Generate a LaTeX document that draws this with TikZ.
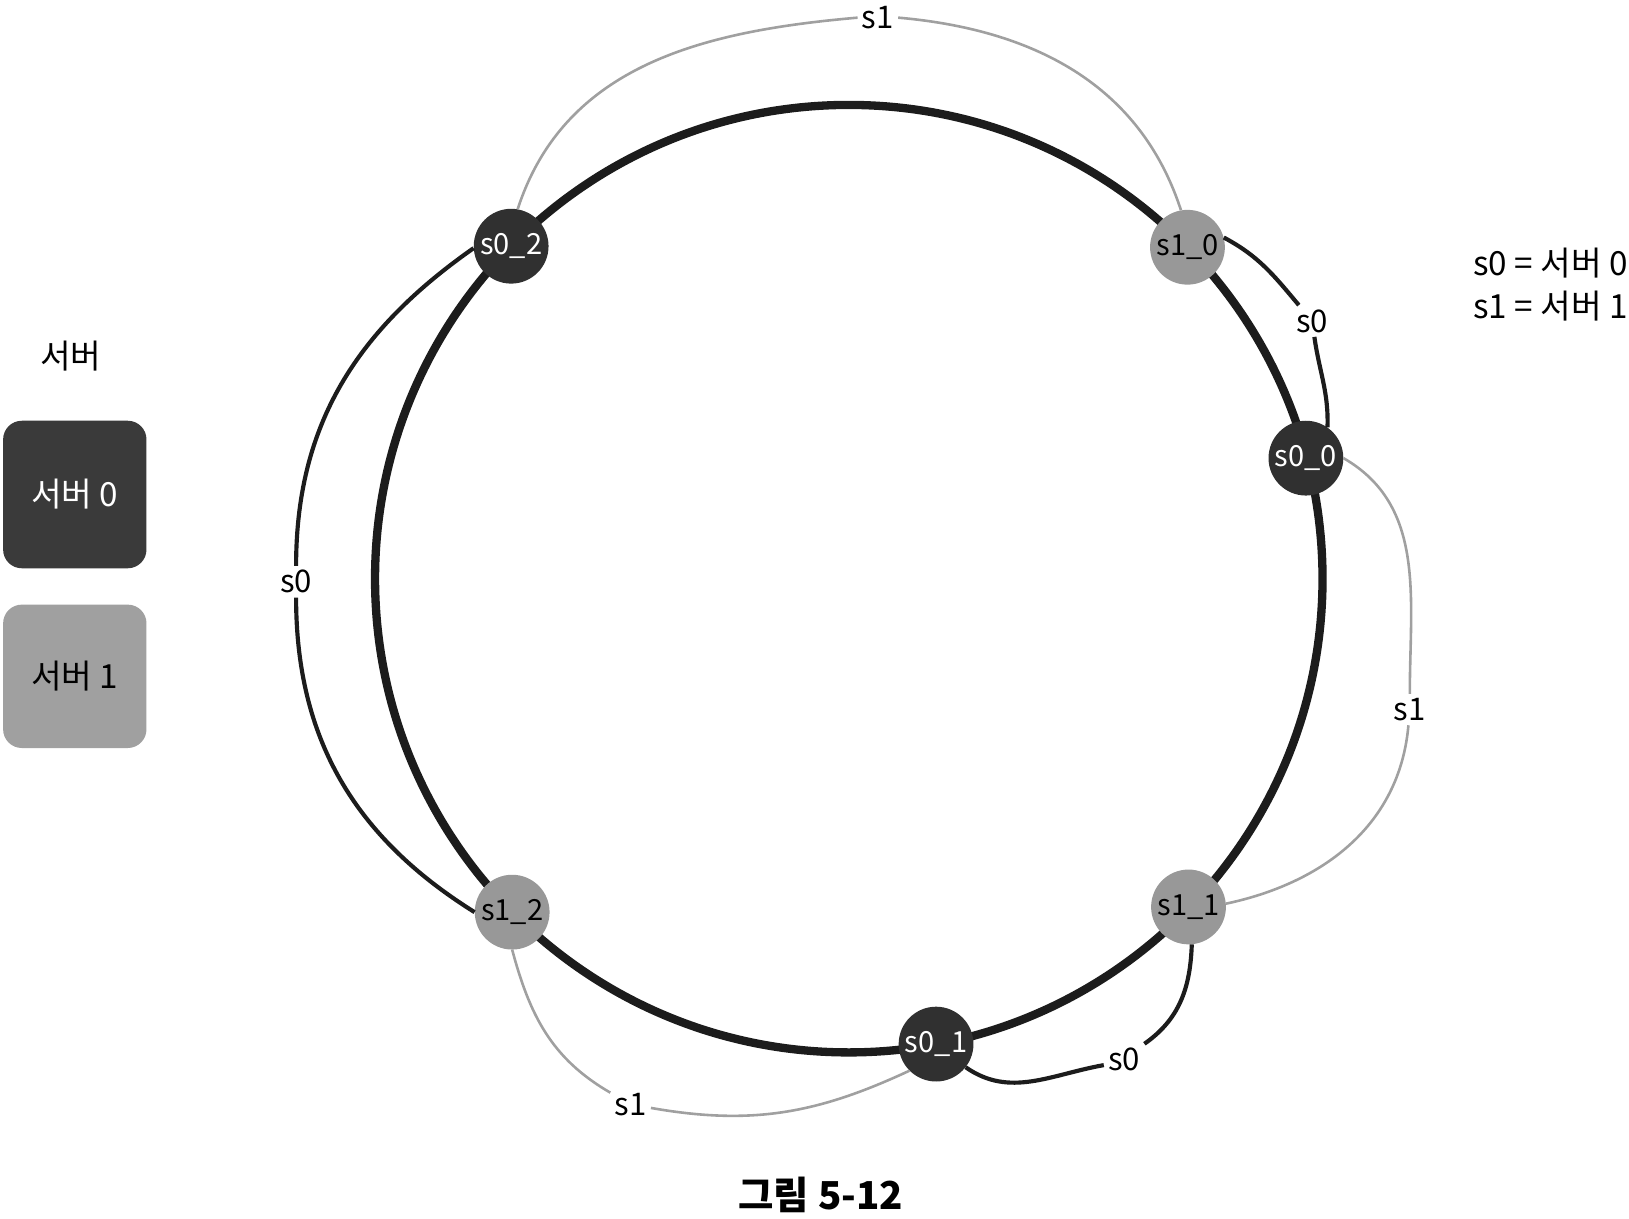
\documentclass[tikz,border=0pt]{standalone}
\usepackage{fontspec}
\setmainfont{Noto Sans CJK KR}
\definecolor{darkfill}{RGB}{48,48,48}
\definecolor{grayfill}{RGB}{152,152,152}
\definecolor{ringc}{RGB}{28,28,28}
\definecolor{arcgray}{RGB}{160,160,160}
\definecolor{boxdark}{RGB}{58,58,58}
\definecolor{boxgray}{RGB}{160,160,160}
\begin{document}
\begin{tikzpicture}[x=1pt,y=1pt,
  every node/.style={font=\fontsize{30}{36}\selectfont},
  legfont/.style={font=\fontsize{32}{38}\selectfont},
  srvzero/.style={circle, fill=darkfill, minimum size=72pt, inner sep=0pt, text=white, font=\fontsize{28}{34}\selectfont},
  srvone/.style={circle, fill=grayfill, minimum size=72pt, inner sep=0pt, text=black, font=\fontsize{28}{34}\selectfont},
  lbl/.style={inner sep=4pt},
  ringline/.style={line width=8pt, draw=ringc},
  blackarc/.style={line width=4pt, draw=ringc},
  grayarc/.style={line width=2.5pt, draw=arcgray},
  legbox/.style={rounded corners=18pt, minimum width=138pt, minimum height=142pt, inner sep=0pt},
]
\useasboundingbox (0,0) rectangle (1568,1173);
% ring
\coordinate (c) at (817,616);
\draw[ringline] (c) circle[radius=456pt];
% server nodes
\node[srvzero] (s02) at (492,936) {s0\_2};
\node[srvone]  (s10) at (1143,935) {s1\_0};
\node[srvzero] (s00) at (1257,732) {s0\_0};
\node[srvone]  (s11) at (1144,300) {s1\_1};
\node[srvzero] (s01) at (901,168) {s0\_1};
\node[srvone]  (s12) at (493,295) {s1\_2};
% arc labels
\node[lbl] (Ltop) at (845,1156) {s1};
\node[lbl] (Lr1) at (1263,864) {s0};
\node[lbl] (Lr2) at (1357,490) {s1};
\node[lbl] (Lb1) at (1082,153) {s0};
\node[lbl] (Lb2) at (607,110) {s1};
\node[lbl] (Ll) at (285,613) {s0};
% outer arcs
\draw[grayarc] (s02.80) to[out=72, in=185] (Ltop.west) (Ltop.east) to[out=-5, in=108] (s10.100);
\draw[blackarc] (s10.15) to[out=-28, in=130] (Lr1) to[out=-82, in=88] (s00.55);
\draw[grayarc] (s00.0) to[out=-30, in=90] (Lr2) to[out=-95, in=12] (s11.5);
\draw[blackarc] (s11.-85) to[out=-92, in=35] (Lb1.north east) (Lb1.195) to[out=190, in=-35] (s01.-38);
\draw[grayarc] (s01.-135) to[out=-155, in=-10] (Lb2) to[out=150, in=-75] (s12.-90);
\draw[blackarc] (s02.183) to[out=215, in=90] (Ll) to[out=-90, in=148] (s12.180);
% legend left
\node[legfont] (legtitle) at (68,830) {서버};
\node[legbox, legfont, fill=boxdark, text=white] (box0) at (72,697) {서버 0};
\node[legbox, legfont, fill=boxgray, minimum height=138pt] (box1) at (72,522) {서버 1};
% legend right
\node[legfont, anchor=west, inner sep=0pt] (key0) at (1418,920) {s0 = 서버 0};
\node[legfont, anchor=west, inner sep=0pt] (key1) at (1418,878) {s1 = 서버 1};
% caption
\node[font=\fontsize{37}{44}\selectfont\bfseries] (cap) at (790,23) {그림 5-12};
\end{tikzpicture}
\end{document}
